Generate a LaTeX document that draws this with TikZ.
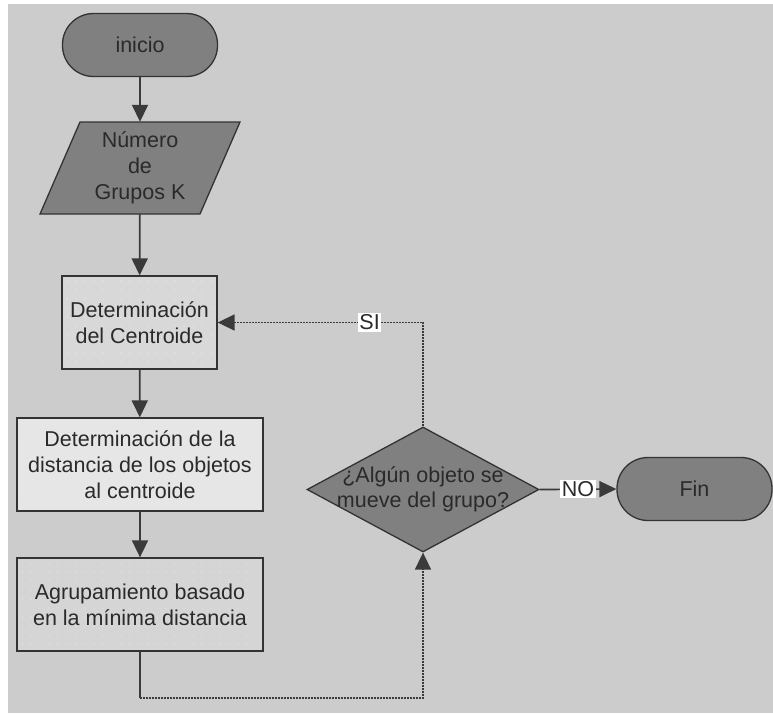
\documentclass[tikz,border=0pt]{standalone}
\usepackage{fontspec}
\setmainfont{Liberation Sans}
\usetikzlibrary{arrows.meta,shapes.geometric,calc}

\definecolor{bgc}{HTML}{CCCCCC}
\definecolor{darkfill}{HTML}{808080}
\definecolor{edgec}{HTML}{333333}
\definecolor{textc}{HTML}{2A2A2A}
\definecolor{linec}{HTML}{3A3A3A}
\definecolor{boxa}{HTML}{D8D8D8}
\definecolor{boxb}{HTML}{E6E6E6}
\definecolor{boxc}{HTML}{D5D5D5}
\definecolor{dotc}{HTML}{EEEEEE}

\tikzset{
  x=1pt, y=-1pt,
  every node/.style={font=\fontsize{21.5}{26}\selectfont, text=textc, align=center},
  terminal/.style={draw=edgec, line width=1.3pt, fill=darkfill,
    rounded corners=31pt, minimum width=155pt, minimum height=63pt, inner sep=0pt},
  process/.style={draw=edgec, line width=1.3pt, minimum height=93pt, inner sep=0pt,
    path picture={
      \foreach \i in {0,...,28} \foreach \j in {0,...,10}
        \fill[dotc] ($(path picture bounding box.north west)+(\i*9+5,\j*9+5)$) circle (0.7pt);
    }},
  flow/.style={draw=linec, line width=1.7pt},
  flowdot/.style={draw=linec, line width=1.7pt, dash pattern=on 2pt off 1pt},
  tip/.style={-{Triangle[length=17pt,width=16pt]}},
  branch/.style={fill=white, inner sep=1.5pt, font=\fontsize{21.5}{24}\selectfont},
}

\begin{document}
\begin{tikzpicture}
  \useasboundingbox (0,0) rectangle (773,713);
  \fill[white] (0,0) rectangle (773,713);
  \fill[bgc] (8,4) rectangle (773,713);

  % start / end terminals
  \node[terminal] (inicio) at (140,45) {inicio};
  \node[terminal] (fin) at (694.5,489) {Fin};

  % input parallelogram
  \fill[darkfill] (80,122) -- (240,122) -- (200,214) -- (40,214) -- cycle;
  \draw[edgec, line width=1.3pt] (80,122) -- (240,122) -- (200,214) -- (40,214) -- cycle;
  \node[minimum width=160pt, minimum height=92pt, inner sep=0pt] (param) at (140,168)
    {Número\\de\\Grupos K};

  % process steps
  \node[process, fill=boxa, minimum width=155pt] (cent) at (139.5,322.5)
    {Determinación\\del Centroide};
  \node[process, fill=boxb, minimum width=246pt] (dist) at (140,464.5)
    {Determinación de la\\distancia de los objetos\\al centroide};
  \node[process, fill=boxc, minimum width=246pt] (agrup) at (140,604.5)
    {Agrupamiento basado\\en la mínima distancia};

  % decision
  \node[diamond, draw=edgec, line width=1.3pt, fill=darkfill,
        minimum width=232pt, minimum height=125pt, inner sep=0pt] (dec) at (423,489.5) {};
  \node[font=\fontsize{21.5}{25}\selectfont] (dectext) at (dec.center)
    {¿Algún objeto se\\mueve del grupo?};

  % main flow
  \draw[flow, tip] (inicio) -- (param);
  \draw[flow, tip] (param) -- (cent);
  \draw[flow, tip] (cent) -- (dist);
  \draw[flow, tip] (dist) -- (agrup);

  % loop back to the decision
  \coordinate (b1) at (140,698);
  \coordinate (b2) at (423,698);
  \draw[flow] (agrup.south) -- (b1);
  \draw[flowdot, tip] (b1) -- (b2) -- (dec.south);

  % yes branch back to the centroid step
  \draw[flowdot, tip] (dec.north) |- node[branch, pos=0.63] {SI} (cent.east);

  % no branch to the end
  \draw[flow, tip] (dec.east) -- node[branch, pos=0.5] {NO} (fin.west);
\end{tikzpicture}
\end{document}
